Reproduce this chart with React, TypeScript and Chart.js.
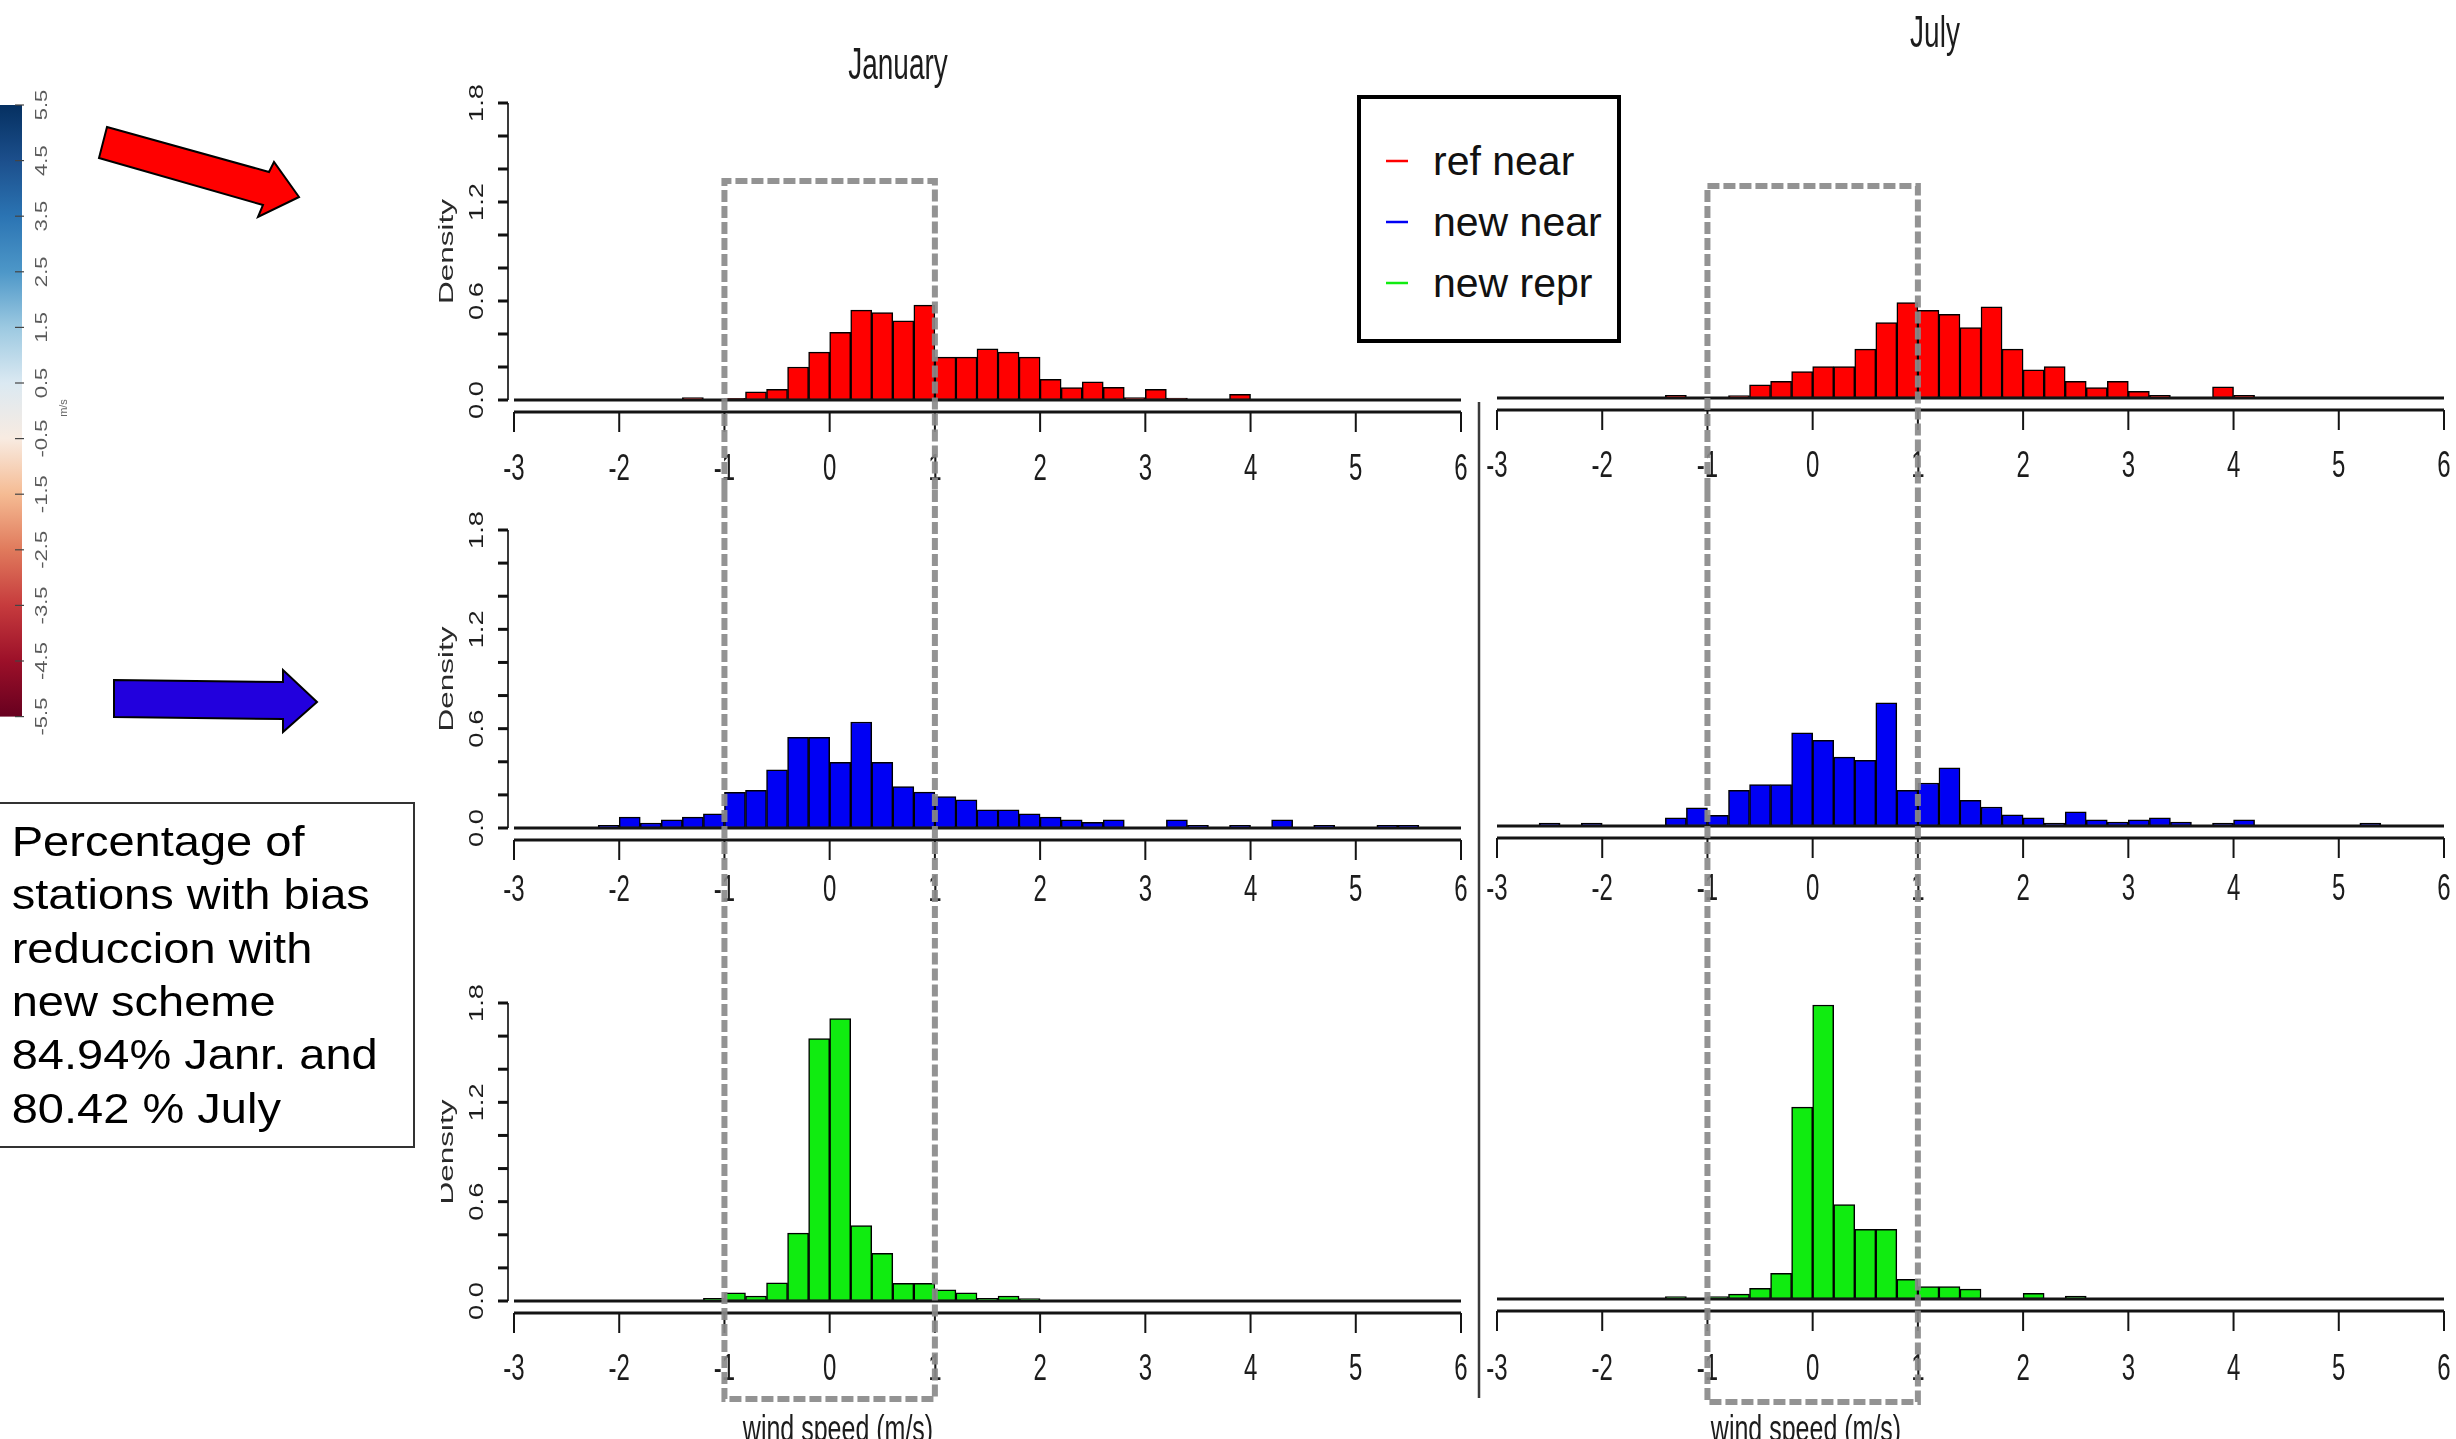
import React, { useEffect, useRef } from 'react';
import { Chart, registerables } from 'chart.js';

Chart.register(...registerables);

// ---------------- data ----------------
const X_MIN = -3;
const X_MAX = 6;
// left edges of the 0.2 m/s histogram bins
const BIN_STARTS = [
  -3.0, -2.8, -2.6, -2.4, -2.2, -2.0, -1.8, -1.6, -1.4, -1.2,
  -1.0, -0.8, -0.6, -0.4, -0.2, 0.0, 0.2, 0.4, 0.6, 0.8,
  1.0, 1.2, 1.4, 1.6, 1.8, 2.0, 2.2, 2.4, 2.6, 2.8,
  3.0, 3.2, 3.4, 3.6, 3.8, 4.0, 4.2, 4.4, 4.6, 4.8,
  5.0, 5.2, 5.4, 5.6, 5.8,
];
const X_TICKS = [-3, -2, -1, 0, 1, 2, 3, 4, 5, 6];
const Y_TICKS = [0, 0.2, 0.4, 0.6, 0.8, 1.0, 1.2, 1.4, 1.6, 1.8];
const Y_LABEL_VALUES = [0, 0.6, 1.2, 1.8];
const Y_LABELS = ['0.0', '0.6', '1.2', '1.8'];
const Y_MAX = 1.8;
const HIGHLIGHT = [-1, 1];

const JAN_REF_NEAR = [
  0, 0, 0, 0, 0, 0, 0, 0, 0.015, 0,
  0.01, 0.05, 0.065, 0.2, 0.29, 0.41, 0.545, 0.53, 0.48, 0.575,
  0.26, 0.26, 0.31, 0.29, 0.26, 0.125, 0.075, 0.11, 0.077, 0.015,
  0.065, 0.012, 0, 0, 0.035, 0, 0, 0, 0, 0,
  0, 0, 0, 0, 0,
];
const JUL_REF_NEAR = [
  0, 0, 0, 0, 0, 0, 0, 0, 0.016, 0,
  0, 0.015, 0.08, 0.1, 0.16, 0.19, 0.19, 0.295, 0.456, 0.577,
  0.53, 0.505, 0.426, 0.55, 0.295, 0.17, 0.19, 0.1, 0.063, 0.1,
  0.04, 0.016, 0, 0, 0.067, 0.016, 0, 0, 0, 0,
  0, 0, 0, 0, 0,
];
const JAN_NEW_NEAR = [
  0, 0, 0, 0, 0.016, 0.066, 0.03, 0.05, 0.066, 0.085,
  0.215, 0.227, 0.352, 0.547, 0.547, 0.396, 0.64, 0.396, 0.25, 0.217,
  0.19, 0.17, 0.11, 0.11, 0.085, 0.066, 0.05, 0.034, 0.05, 0,
  0, 0.05, 0.016, 0, 0.016, 0, 0.05, 0, 0.016, 0,
  0, 0.016, 0.016, 0, 0,
];
const JUL_NEW_NEAR = [
  0, 0, 0.018, 0, 0.018, 0, 0, 0, 0.05, 0.11,
  0.064, 0.215, 0.25, 0.25, 0.563, 0.517, 0.416, 0.396, 0.744, 0.215,
  0.26, 0.352, 0.155, 0.115, 0.068, 0.05, 0.018, 0.085, 0.038, 0.024,
  0.038, 0.05, 0.024, 0, 0.018, 0.038, 0, 0, 0, 0,
  0, 0.018, 0, 0, 0,
];
const JAN_NEW_REPR = [
  0, 0, 0, 0, 0, 0, 0, 0, 0, 0.016,
  0.05, 0.03, 0.11, 0.41, 1.585, 1.706, 0.456, 0.288, 0.107, 0.107,
  0.067, 0.05, 0.016, 0.03, 0.014, 0, 0, 0, 0, 0,
  0, 0, 0, 0, 0, 0, 0, 0, 0, 0,
  0, 0, 0, 0, 0,
];
const JUL_NEW_REPR = [
  0, 0, 0, 0, 0, 0, 0, 0, 0.014, 0,
  0.014, 0.03, 0.065, 0.155, 1.163, 1.782, 0.573, 0.423, 0.423, 0.119,
  0.075, 0.075, 0.06, 0, 0, 0.034, 0, 0.018, 0, 0,
  0, 0, 0, 0, 0, 0, 0, 0, 0, 0,
  0, 0, 0, 0, 0,
];

const LEGEND_LABELS = ['ref near', 'new near', 'new repr'];
const COLORBAR_LABELS = ['5.5', '4.5', '3.5', '2.5', '1.5', '0.5', '-0.5', '-1.5', '-2.5', '-3.5', '-4.5', '-5.5'];
const NOTE_LINES = [
  'Percentage of',
  'stations with bias',
  'reduccion with',
  'new scheme',
  '84.94% Janr. and',
  '80.42 % July',
];

// ---------------- styles ----------------
const FONT = '"Liberation Sans", Arial, Helvetica, sans-serif';
const RED = '#ff0000';
const BLUE = '#0000f4';
const GREEN = '#10ec10';

type PanelCfg = {
  key: string;
  values: number[];
  color: string;
  left: number;
  top: number;
  width: number;
  height: number;
  pad: { left: number; right: number; top: number; bottom: number };
  row: number;
  showY: boolean;
  labelDy: number;
  rectEdge: number;
  title?: string;
  titleX?: number;
  titleY?: number;
  xlabX?: number;
  xlabY?: number;
};

const PANELS: PanelCfg[] = [
  { key: 'jan0', values: JAN_REF_NEAR, color: RED, left: 400, top: 0, width: 1076, height: 490,
    pad: { left: 114, right: 15, top: 103, bottom: 90 }, row: 0, showY: true, labelDy: 70, rectEdge: 181,
    title: 'January', titleX: 498, titleY: 79 },
  { key: 'jan1', values: JAN_NEW_NEAR, color: BLUE, left: 400, top: 490, width: 1076, height: 450,
    pad: { left: 114, right: 15, top: 40, bottom: 112 }, row: 1, showY: true, labelDy: 63, rectEdge: 0 },
  { key: 'jan2', values: JAN_NEW_REPR, color: GREEN, left: 400, top: 940, width: 1076, height: 499,
    pad: { left: 114, right: 15, top: 63, bottom: 138 }, row: 2, showY: true, labelDy: 69, rectEdge: 459,
    xlabX: 438, xlabY: 501 },
  { key: 'jul0', values: JUL_REF_NEAR, color: RED, left: 1476, top: 0, width: 980, height: 490,
    pad: { left: 21, right: 12, top: 100, bottom: 92 }, row: 0, showY: false, labelDy: 69, rectEdge: 186,
    title: 'July', titleX: 459, titleY: 47 },
  { key: 'jul1', values: JUL_NEW_NEAR, color: BLUE, left: 1476, top: 490, width: 980, height: 450,
    pad: { left: 21, right: 12, top: 38, bottom: 114 }, row: 1, showY: false, labelDy: 64, rectEdge: 0 },
  { key: 'jul2', values: JUL_NEW_REPR, color: GREEN, left: 1476, top: 940, width: 980, height: 499,
    pad: { left: 21, right: 12, top: 62, bottom: 140 }, row: 2, showY: false, labelDy: 71, rectEdge: 462,
    xlabX: 330, xlabY: 501 },
];

function stretchText(ctx: CanvasRenderingContext2D, text: string, x: number, y: number, font: string,
  sy: number, baseline: CanvasTextBaseline, color: string) {
  ctx.save();
  ctx.translate(x, y);
  ctx.scale(1, sy);
  ctx.font = font;
  ctx.fillStyle = color;
  ctx.textAlign = 'center';
  ctx.textBaseline = baseline;
  ctx.fillText(text, 0, 0);
  ctx.restore();
}

function rotText(ctx: CanvasRenderingContext2D, text: string, x: number, y: number, font: string,
  sy: number, color: string) {
  ctx.save();
  ctx.translate(x, y);
  ctx.scale(1, sy);
  ctx.rotate(-Math.PI / 2);
  ctx.font = font;
  ctx.fillStyle = color;
  ctx.textAlign = 'center';
  ctx.textBaseline = 'middle';
  ctx.fillText(text, 0, 0);
  ctx.restore();
}

function makeDeco(cfg: PanelCfg) {
  return {
    id: 'deco_' + cfg.key,
    afterDatasetsDraw(chart: any) {
      const ctx: CanvasRenderingContext2D = chart.ctx;
      const xs = chart.scales.x;
      const ys = chart.scales.y;
      // the category scale spans the bins from X_MIN to X_MAX edge to edge
      const px = (v: number) => xs.left + ((v - X_MIN) / (X_MAX - X_MIN)) * (xs.right - xs.left);
      const py = (v: number) => ys.getPixelForValue(v);
      const xa = px(X_MIN);
      const xb = px(X_MAX);
      const y0 = py(0);
      const H = chart.height;
      const line = (x1: number, y1: number, x2: number, y2: number) => {
        ctx.beginPath();
        ctx.moveTo(x1, y1);
        ctx.lineTo(x2, y2);
        ctx.stroke();
      };
      ctx.save();
      ctx.lineCap = 'butt';
      ctx.strokeStyle = '#141414';
      ctx.lineWidth = 3;
      line(xa, y0, xb, y0);
      const ya = y0 + 12;
      line(xa, ya, xb, ya);
      ctx.lineWidth = 2;
      for (const t of X_TICKS) line(px(t), ya, px(t), ya + 20);
      for (const t of X_TICKS) {
        stretchText(ctx, String(t), px(t), y0 + cfg.labelDy, '24px ' + FONT, 1.55, 'middle', '#1c1c1c');
      }
      if (cfg.showY) {
        const xl = xa - 6;
        ctx.strokeStyle = '#3a3a3a';
        ctx.lineWidth = 2;
        line(xl, py(0), xl, py(Y_MAX));
        ctx.strokeStyle = '#111';
        ctx.lineWidth = 3;
        for (const t of Y_TICKS) line(xl - 10, py(t), xl, py(t));
        Y_LABEL_VALUES.forEach((v, i) => {
          rotText(ctx, Y_LABELS[i], xa - 37, py(v), '21px ' + FONT, 1.3, '#1c1c1c');
        });
        rotText(ctx, 'Density', xa - 67, (py(0) + py(Y_MAX)) / 2, '21px ' + FONT, 1.5, '#2a2a2a');
      }
      // dashed highlight box (x from -1 to 1)
      const hl = px(HIGHLIGHT[0]);
      const hr = px(HIGHLIGHT[1]);
      ctx.setLineDash([12, 4]);
      ctx.strokeStyle = 'rgba(138,138,138,0.92)';
      ctx.lineWidth = 6;
      ctx.beginPath();
      if (cfg.row === 0) {
        ctx.moveTo(hl, H);
        ctx.lineTo(hl, cfg.rectEdge);
        ctx.lineTo(hr, cfg.rectEdge);
        ctx.lineTo(hr, H);
      } else if (cfg.row === 1) {
        ctx.moveTo(hl, 0);
        ctx.lineTo(hl, H);
        ctx.moveTo(hr, 0);
        ctx.lineTo(hr, H);
      } else {
        ctx.moveTo(hl, 0);
        ctx.lineTo(hl, cfg.rectEdge);
        ctx.lineTo(hr, cfg.rectEdge);
        ctx.lineTo(hr, 0);
      }
      ctx.stroke();
      ctx.setLineDash([]);
      if (cfg.title) {
        stretchText(ctx, cfg.title, cfg.titleX!, cfg.titleY!, '28px ' + FONT, 1.6, 'alphabetic', '#1c1c1c');
      }
      if (cfg.xlabX !== undefined) {
        stretchText(ctx, 'wind speed (m/s)', cfg.xlabX, cfg.xlabY!, '25px ' + FONT, 1.5, 'alphabetic', '#1c1c1c');
      }
      ctx.restore();
    },
  };
}

function Panel({ cfg }: { cfg: PanelCfg }) {
  const ref = useRef<HTMLCanvasElement>(null);
  useEffect(() => {
    const canvas = ref.current!;
    const chart = new Chart(canvas, {
      type: 'bar',
      data: {
        labels: BIN_STARTS.map((b) => b.toFixed(1)),
        datasets: [
          {
            data: cfg.values,
            backgroundColor: cfg.color,
            borderColor: '#000000',
            borderWidth: 1.5,
            borderSkipped: false,
            barPercentage: 1,
            categoryPercentage: 1,
          },
        ],
      },
      options: {
        animation: false,
        responsive: false,
        maintainAspectRatio: false,
        events: [],
        layout: { padding: cfg.pad, autoPadding: false },
        plugins: { legend: { display: false }, tooltip: { enabled: false }, title: { display: false } },
        scales: {
          x: { type: 'category', display: false, offset: true },
          y: { type: 'linear', display: false, min: 0, max: Y_MAX },
        },
      } as any,
      plugins: [makeDeco(cfg)],
    });
    return () => chart.destroy();
  }, [cfg]);
  return (
    <canvas
      ref={ref}
      width={cfg.width}
      height={cfg.height}
      style={{ position: 'absolute', left: cfg.left, top: cfg.top, width: cfg.width, height: cfg.height }}
    />
  );
}

const CB_TOP = 105;
const CB_STEP = 55.6;
const CB_STOPS: [number, string][] = [
  [0, '#053061'], [1 / 11, '#1c4f8c'], [2 / 11, '#2b74b3'], [3 / 11, '#4d97c8'],
  [4 / 11, '#9cc9e1'], [5 / 11, '#dbe9f2'], [6 / 11, '#f8ebe1'], [7 / 11, '#f5bb93'],
  [8 / 11, '#e07a5c'], [9 / 11, '#c63b3d'], [10 / 11, '#9c1029'], [1, '#67001f'],
];

function Overlay() {
  const legendColors = [RED, BLUE, GREEN];
  return (
    <svg width={2456} height={1439} style={{ position: 'absolute', left: 0, top: 0 }}>
      <defs>
        <linearGradient id="rdbu" x1="0" y1="0" x2="0" y2="1">
          {CB_STOPS.map(([o, c]) => (
            <stop key={o} offset={o} stopColor={c} />
          ))}
        </linearGradient>
      </defs>
      {/* colour bar */}
      <rect x={0} y={CB_TOP} width={22} height={CB_STEP * 11} fill="url(#rdbu)" />
      {COLORBAR_LABELS.map((t, i) => {
        const y = CB_TOP + i * CB_STEP;
        return (
          <g key={t}>
            <line x1={15} y1={y} x2={24} y2={y} stroke="#444" strokeWidth={1.2} />
            <text x={0} y={0} transform={`translate(41 ${y}) scale(1 1.3) rotate(-90)`} textAnchor="middle"
              dominantBaseline="central" fontFamily={FONT} fontSize={17} fill="#5a5a5a">{t}</text>
          </g>
        );
      })}
      <text x={0} y={0} transform="translate(63 408) rotate(-90)" textAnchor="middle" dominantBaseline="central"
        fontFamily={FONT} fontSize={11} fill="#666">m/s</text>

      {/* arrows */}
      <polygon points="107,127 269,172 274,162 299,197 258,217 263,205 99,158" fill="#ff0000" stroke="#000"
        strokeWidth={2} strokeLinejoin="miter" />
      <polygon points="114,680 283,682 283,670 317,702 283,732 283,719 114,717" fill="#2200dd" stroke="#000"
        strokeWidth={2} />

      {/* separator between columns */}
      <line x1={1479} y1={402} x2={1479} y2={1398} stroke="#3a3a3a" strokeWidth={2.5} />

      {/* white patch hiding part of the lower Density label */}
      <rect x={0} y={790} width={441} height={425} fill="#ffffff" />

      {/* note box */}
      <rect x={-2} y={803} width={416} height={344} fill="#ffffff" stroke="#333" strokeWidth={2} />
      {NOTE_LINES.map((t, i) => (
        <text key={t} x={0} y={0} transform={`translate(11.7 ${856 + i * 53.3}) scale(1.12 1)`}
          fontFamily={FONT} fontSize={42} fill="#000">{t}</text>
      ))}

      {/* legend */}
      <rect x={1359} y={97} width={260} height={244} fill="#ffffff" stroke="#000" strokeWidth={4} />
      {LEGEND_LABELS.map((t, i) => {
        const base = 175 + i * 61;
        return (
          <g key={t}>
            <line x1={1386} y1={base - 14} x2={1408} y2={base - 14} stroke={legendColors[i]} strokeWidth={2.5} />
            <text x={1433} y={base} fontFamily={FONT} fontSize={41} fill="#111">{t}</text>
          </g>
        );
      })}
    </svg>
  );
}

export default function App() {
  return (
    <div style={{ position: 'absolute', left: 0, top: 0, width: 2456, height: 1439, overflow: 'hidden', background: '#ffffff' }}>
      {PANELS.map((p) => (
        <Panel key={p.key} cfg={p} />
      ))}
      <Overlay />
    </div>
  );
}
